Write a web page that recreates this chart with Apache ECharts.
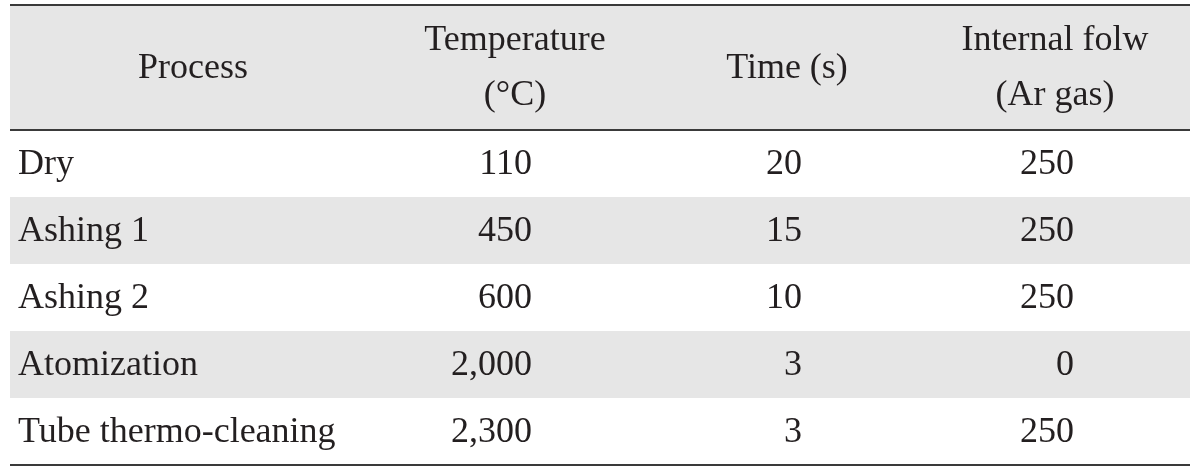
<!DOCTYPE html>
<html>
<head>
<meta charset="utf-8">
<script src="https://cdn.jsdelivr.net/npm/echarts@6/dist/echarts.min.js"></script>
<style>
html,body{margin:0;padding:0;background:#fff;}
#c{width:1200px;height:471px;}
</style>
</head>
<body>
<div id="c"></div>
<script>
// ---- data ----
const headers = ['Process', 'Temperature\n(°C)', 'Time (s)', 'Internal folw\n(Ar gas)'];
const processes = ['Dry', 'Ashing 1', 'Ashing 2', 'Atomization', 'Tube thermo-cleaning'];
const temperature = [110, 450, 600, 2000, 2300];
const timeSec = [20, 15, 10, 3, 3];
const internalFlow = [250, 250, 250, 0, 250];

// ---- layout (axis units == page pixels) ----
const X0 = 10, X1 = 1190, Y0 = 5, Y1 = 465;
const HEADER_H = 125, ROW_H = 67;
const headerCenters = [193, 515, 787, 1055];
const cellAnchors = [18, 532, 802, 1074];
const cellAlign = ['left', 'right', 'right', 'right'];
const FONT = '"Liberation Serif", "DejaVu Serif", serif';
const TEXT_COLOR = '#231f20';
const GRAY = '#e6e6e6';
const RULE = '#3a3a3a';

function rowTop(r) { return r < 0 ? Y0 : Y0 + HEADER_H + r * ROW_H; }
function rowH(r) { return r < 0 ? HEADER_H : ROW_H; }
function fmt(n) { return n.toLocaleString('en-US'); }

const cells = [];
headers.forEach((h, c) => cells.push([c, -1, h]));
processes.forEach((p, r) => {
  cells.push([0, r, p]);
  cells.push([1, r, fmt(temperature[r])]);
  cells.push([2, r, fmt(timeSec[r])]);
  cells.push([3, r, fmt(internalFlow[r])]);
});

const bgRows = [-1, 0, 1, 2, 3, 4];
const rules = [Y0, Y0 + HEADER_H, Y1];

const chart = echarts.init(document.getElementById('c'));
chart.setOption({
  animation: false,
  grid: { left: X0, right: 1200 - X1, top: Y0, bottom: 471 - Y1 },
  xAxis: { type: 'value', min: X0, max: X1, show: false },
  yAxis: { type: 'value', min: Y0, max: Y1, inverse: true, show: false },
  series: [
    {
      type: 'custom',
      data: bgRows.map(r => [r]),
      renderItem: function (params, api) {
        const r = api.value(0);
        const fill = (r < 0 || r % 2 === 1) ? GRAY : '#ffffff';
        const p0 = api.coord([X0, rowTop(r)]);
        const p1 = api.coord([X1, rowTop(r) + rowH(r)]);
        return { type: 'rect', shape: { x: p0[0], y: p0[1], width: p1[0] - p0[0], height: p1[1] - p0[1] }, style: { fill: fill } };
      },
      z: 1
    },
    {
      type: 'custom',
      data: rules.map(y => [y]),
      renderItem: function (params, api) {
        const y = api.value(0);
        const a = api.coord([X0, y]);
        const b = api.coord([X1, y]);
        return { type: 'line', shape: { x1: a[0], y1: a[1], x2: b[0], y2: b[1] }, style: { stroke: RULE, lineWidth: 2 } };
      },
      z: 3
    },
    {
      type: 'custom',
      data: cells.map(d => [d[0], d[1]]),
      renderItem: function (params, api) {
        const c = api.value(0), r = api.value(1);
        const text = cells[params.dataIndex][2];
        const x = r < 0 ? headerCenters[c] : cellAnchors[c];
        const align = r < 0 ? 'center' : cellAlign[c];
        const y = rowTop(r) + rowH(r) / 2;
        const p = api.coord([x, y]);
        return {
          type: 'text',
          style: {
            x: p[0], y: p[1] + 1, text: text,
            fill: TEXT_COLOR, font: '36px ' + FONT,
            align: align, verticalAlign: 'middle', lineHeight: 55
          }
        };
      },
      z: 4
    }
  ]
});
</script>
</body>
</html>
